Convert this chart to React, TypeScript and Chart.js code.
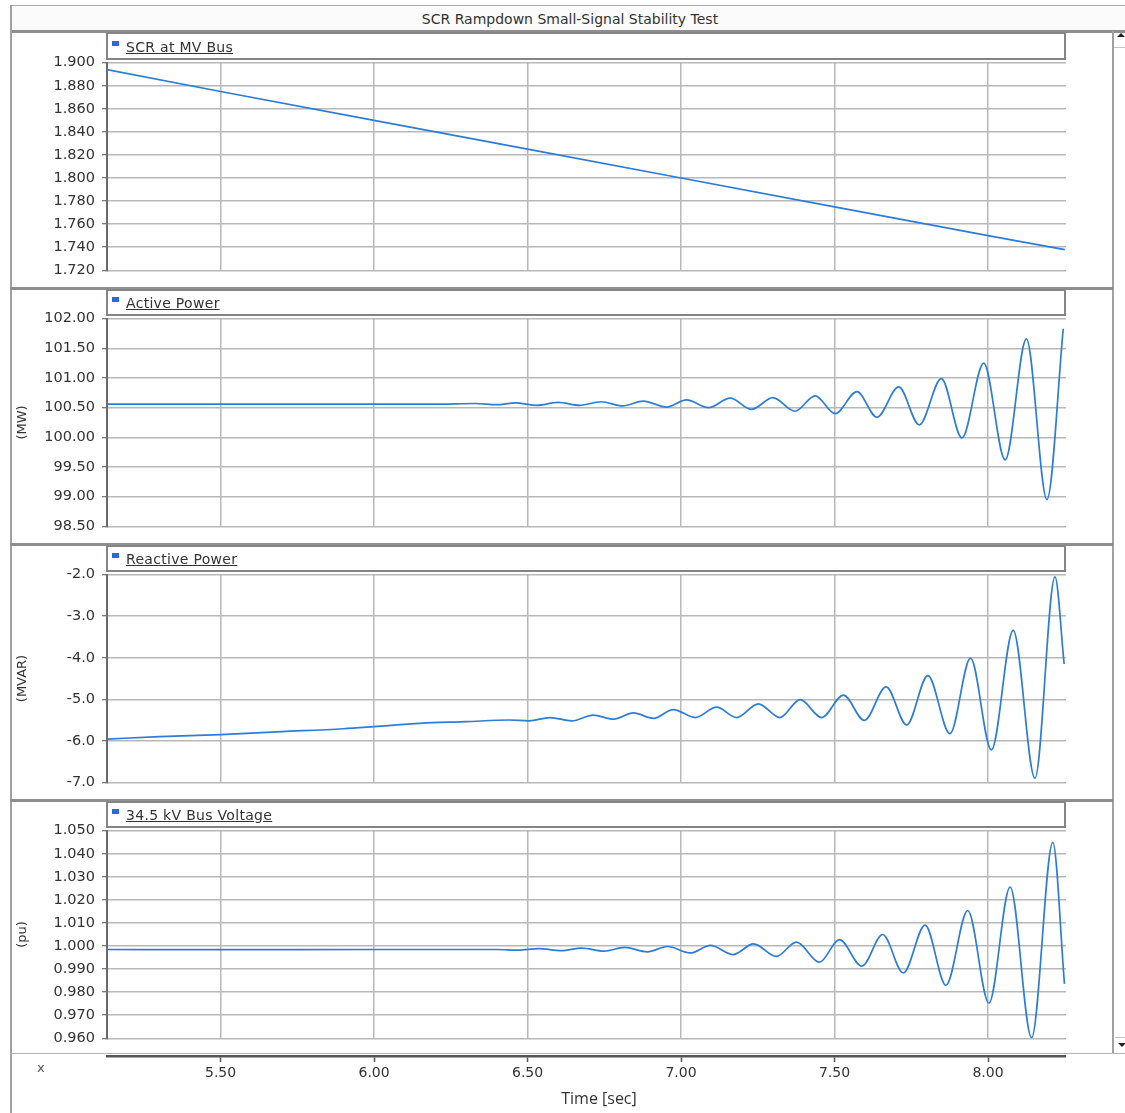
import React, { useEffect, useRef } from 'react';
import { Chart, registerables } from 'chart.js';

Chart.register(...registerables);
Chart.defaults.font.family = "'DejaVu Sans', sans-serif";

// ---------- data ----------
const CHART_TITLE = 'SCR Rampdown Small-Signal Stability Test';
const X_AXIS_TITLE = 'Time [sec]';
const X_MIN = 5.13;
const X_MAX = 8.254;
const X_TICKS = [5.5, 6.0, 6.5, 7.0, 7.5, 8.0];

const SCR_LABEL = 'SCR at MV Bus';
const SCR_TIME = [5.13, 5.5, 6.0, 6.5, 7.0, 7.5, 8.0, 8.25];
const SCR_VALUES = [1.894, 1.875, 1.85, 1.825, 1.8, 1.775, 1.75, 1.738];
const SCR_TICKS = [1.72, 1.74, 1.76, 1.78, 1.8, 1.82, 1.84, 1.86, 1.88, 1.9];

const P_LABEL = 'Active Power';
const P_UNIT = '(MW)';
const P_TIME = [5.13, 5.5, 6.0, 6.2, 6.33, 6.4, 6.46, 6.53, 6.6, 6.67, 6.74, 6.81, 6.877, 6.953, 7.018, 7.089, 7.16, 7.23, 7.299, 7.371, 7.437, 7.502, 7.573, 7.638, 7.709, 7.776, 7.848, 7.915, 7.986, 8.056, 8.125, 8.192, 8.245];
const P_VALUES = [100.56, 100.56, 100.56, 100.56, 100.57, 100.55, 100.58, 100.54, 100.59, 100.54, 100.6, 100.53, 100.61, 100.51, 100.63, 100.5, 100.66, 100.47, 100.67, 100.44, 100.7, 100.4, 100.77, 100.34, 100.85, 100.21, 100.99, 99.99, 101.25, 99.62, 101.66, 98.95, 101.83];
const P_TICKS = [98.5, 99.0, 99.5, 100.0, 100.5, 101.0, 101.5, 102.0];

const Q_LABEL = 'Reactive Power';
const Q_UNIT = '(MVAR)';
const Q_TIME = [5.13, 5.3, 5.5, 5.7, 5.9, 6.0, 6.15, 6.3, 6.44, 6.505, 6.573, 6.644, 6.714, 6.78, 6.845, 6.91, 6.975, 7.046, 7.116, 7.181, 7.252, 7.322, 7.388, 7.458, 7.529, 7.597, 7.668, 7.735, 7.804, 7.876, 7.943, 8.011, 8.082, 8.153, 8.218, 8.248];
const Q_VALUES = [-5.96, -5.9, -5.85, -5.78, -5.71, -5.66, -5.58, -5.54, -5.5, -5.52, -5.44, -5.52, -5.38, -5.48, -5.33, -5.46, -5.25, -5.44, -5.19, -5.44, -5.11, -5.44, -5.01, -5.44, -4.9, -5.51, -4.7, -5.62, -4.43, -5.83, -4.01, -6.22, -3.34, -6.9, -2.05, -4.15];
const Q_TICKS = [-7, -6, -5, -4, -3, -2];

const V_LABEL = '34.5 kV Bus Voltage';
const V_UNIT = '(pu)';
const V_TIME = [5.13, 5.5, 6.0, 6.4, 6.47, 6.536, 6.61, 6.676, 6.75, 6.816, 6.89, 6.956, 7.03, 7.096, 7.17, 7.236, 7.31, 7.376, 7.451, 7.516, 7.589, 7.657, 7.724, 7.795, 7.863, 7.934, 8.003, 8.072, 8.142, 8.211, 8.249];
const V_VALUES = [0.9985, 0.9984, 0.9985, 0.9985, 0.9982, 0.9989, 0.998, 0.9991, 0.9978, 0.9994, 0.9975, 0.9998, 0.997, 1.0003, 0.9963, 1.0009, 0.9955, 1.0017, 0.993, 1.0028, 0.9913, 1.005, 0.9883, 1.0091, 0.983, 1.0154, 0.9753, 1.0256, 0.9603, 1.0449, 0.9836];
const V_TICKS = [0.96, 0.97, 0.98, 0.99, 1.0, 1.01, 1.02, 1.03, 1.04, 1.05];

const PANELS = [
  { label: SCR_LABEL, unit: '', time: SCR_TIME, values: SCR_VALUES, ticks: SCR_TICKS, decimals: 3, smooth: false },
  { label: P_LABEL, unit: P_UNIT, time: P_TIME, values: P_VALUES, ticks: P_TICKS, decimals: 2, smooth: true },
  { label: Q_LABEL, unit: Q_UNIT, time: Q_TIME, values: Q_VALUES, ticks: Q_TICKS, decimals: 1, smooth: true },
  { label: V_LABEL, unit: V_UNIT, time: V_TIME, values: V_VALUES, ticks: V_TICKS, decimals: 3, smooth: true },
];

// ---------- layout / style ----------
const PANEL_TOPS = [31, 288, 544, 800];
const PLOT_TOPS = [59, 315, 571, 827];
const PLOT_HEIGHT = 215;
const PAD = 12;
const CANVAS_LEFT = 10;
const PLOT_LEFT = 107;
const PLOT_RIGHT = 1066;
const LINE_COLOR = '#2d7dd7';
const GRID_COLOR = '#b8b8b8';
const TEXT_COLOR = '#333333';
const FRAME_COLOR = '#8e8e8e';

function Box(props: { l: number; t: number; w: number; h: number; c: string }) {
  return (
    <div
      style={{ position: 'absolute', left: props.l, top: props.t, width: props.w, height: props.h, background: props.c }}
    />
  );
}

function PanelChart(props: { idx: number }) {
  const ref = useRef<HTMLCanvasElement>(null);
  const p = PANELS[props.idx];
  useEffect(() => {
    const ticks = p.ticks;
    const chart = new Chart(ref.current as HTMLCanvasElement, {
      type: 'line',
      data: {
        datasets: [
          {
            data: p.time.map((t, i) => ({ x: t, y: p.values[i] })),
            borderColor: LINE_COLOR,
            borderWidth: 1.7,
            pointRadius: 0,
            fill: false,
            tension: 0,
            cubicInterpolationMode: p.smooth ? 'monotone' : 'default',
          } as any,
        ],
      },
      options: {
        animation: false,
        responsive: false,
        devicePixelRatio: 1,
        events: [],
        layout: { padding: { top: PAD, bottom: PAD, left: 0, right: 0 } },
        plugins: { legend: { display: false }, tooltip: { enabled: false } },
        scales: {
          x: {
            type: 'linear',
            min: X_MIN,
            max: X_MAX,
            afterBuildTicks: (s: any) => {
              s.ticks = X_TICKS.map((v) => ({ value: v }));
            },
            afterFit: (s: any) => {
              s.height = 0;
            },
            ticks: { display: false },
            grid: { color: GRID_COLOR, lineWidth: 1.5, drawTicks: false },
            border: { display: false },
          },
          y: {
            type: 'linear',
            min: ticks[0],
            max: ticks[ticks.length - 1],
            afterBuildTicks: (s: any) => {
              s.ticks = ticks.map((v) => ({ value: v }));
            },
            afterFit: (s: any) => {
              s.width = PLOT_LEFT - CANVAS_LEFT;
            },
            ticks: {
              callback: (v: any) => Number(v).toFixed(p.decimals),
              font: { size: 14.5 },
              color: TEXT_COLOR,
              padding: 7,
            },
            grid: { color: GRID_COLOR, lineWidth: 1.5, tickLength: 5, tickColor: '#555', tickWidth: 1 },
            border: { display: true, color: '#6a6a6a', width: 2 },
            title: {
              display: !!p.unit,
              text: p.unit,
              font: { size: 13 },
              color: TEXT_COLOR,
              padding: { top: 5, bottom: 0 },
            },
          },
        },
      } as any,
    });
    return () => chart.destroy();
  }, []);
  return (
    <canvas
      ref={ref}
      width={PLOT_RIGHT - CANVAS_LEFT}
      height={PLOT_HEIGHT + 2 * PAD}
      style={{ position: 'absolute', left: CANVAS_LEFT, top: PLOT_TOPS[props.idx] - PAD }}
    />
  );
}

function XAxisChart() {
  const ref = useRef<HTMLCanvasElement>(null);
  useEffect(() => {
    const chart = new Chart(ref.current as HTMLCanvasElement, {
      type: 'line',
      data: { datasets: [] },
      options: {
        animation: false,
        responsive: false,
        devicePixelRatio: 1,
        events: [],
        layout: { padding: { top: 0, bottom: 0, left: PLOT_LEFT - CANVAS_LEFT, right: 0 } },
        plugins: { legend: { display: false }, tooltip: { enabled: false } },
        scales: {
          x: {
            type: 'linear',
            position: 'bottom',
            min: X_MIN,
            max: X_MAX,
            afterBuildTicks: (s: any) => {
              s.ticks = X_TICKS.map((v) => ({ value: v }));
            },
            afterFit: (s: any) => {
              s.height = 57;
            },
            ticks: {
              callback: (v: any) => Number(v).toFixed(2),
              font: { size: 14 },
              color: TEXT_COLOR,
              padding: 3,
              maxRotation: 0,
              autoSkip: false,
            },
            grid: { display: true, drawOnChartArea: false, drawTicks: true, tickLength: 6, tickColor: '#555', tickWidth: 1.5 },
            border: { display: true, color: '#555', width: 2.5 },
          },
          y: { display: false, min: 0, max: 1 },
        },
      } as any,
    });
    return () => chart.destroy();
  }, []);
  return (
    <canvas
      ref={ref}
      width={PLOT_RIGHT - CANVAS_LEFT}
      height={63}
      style={{ position: 'absolute', left: CANVAS_LEFT, top: 1050 }}
    />
  );
}

export default function App() {
  const textFont = "'DejaVu Sans', sans-serif";
  return (
    <div
      style={{
        position: 'absolute',
        left: 0,
        top: 0,
        width: 1125,
        height: 1113,
        background: '#ffffff',
        overflow: 'hidden',
        fontFamily: textFont,
      }}
    >
      {/* title bar */}
      <Box l={10} t={5} w={1115} h={26} c="#fbfbfb" />
      <Box l={10} t={5} w={1115} h={1} c="#a9a9a9" />
      <div
        style={{
          position: 'absolute',
          left: 15,
          top: 11,
          width: 1110,
          textAlign: 'center',
          fontSize: 14,
          lineHeight: '16px',
          color: TEXT_COLOR,
          whiteSpace: 'nowrap',
        }}
      >
        {CHART_TITLE}
      </div>
      <Box l={10} t={30} w={1115} h={3} c={FRAME_COLOR} />

      {/* left / right / bottom frame */}
      <Box l={10} t={5} w={2} h={1108} c="#a0a0a0" />
      <Box l={1112} t={31} w={2} h={1022} c="#a0a0a0" />
      <Box l={10} t={1053} w={1115} h={1} c="#b4b4b4" />

      {/* scrollbar arrows */}
      <Box l={1114} t={47} w={11} h={1} c="#c4c4c4" />
      <div
        style={{
          position: 'absolute',
          left: 1117,
          top: 33,
          width: 0,
          height: 0,
          borderLeft: '4px solid transparent',
          borderRight: '4px solid transparent',
          borderBottom: '4px solid #222',
        }}
      />
      <Box l={1115} t={1037} w={10} h={1} c="#c4c4c4" />
      <div
        style={{
          position: 'absolute',
          left: 1118,
          top: 1043,
          width: 0,
          height: 0,
          borderLeft: '4px solid transparent',
          borderRight: '4px solid transparent',
          borderTop: '4px solid #222',
        }}
      />

      {/* panel separators */}
      {PANEL_TOPS.slice(1).map((t, i) => (
        <Box key={'sep' + i} l={10} t={t - 1} w={1103} h={3} c={FRAME_COLOR} />
      ))}

      {/* charts */}
      {PANELS.map((p, i) => (
        <PanelChart key={'c' + i} idx={i} />
      ))}
      <XAxisChart />

      {/* legend boxes */}
      {PANELS.map((p, i) => (
        <React.Fragment key={'lg' + i}>
          <div
            style={{
              position: 'absolute',
              left: PLOT_LEFT - 1,
              top: PANEL_TOPS[i] + 1,
              width: PLOT_RIGHT - PLOT_LEFT + 1,
              height: PLOT_TOPS[i] - PANEL_TOPS[i],
              boxSizing: 'border-box',
              border: '2px solid #858585',
            }}
          />
          <Box l={112} t={PLOT_TOPS[i] - 18} w={7} h={5} c="#1e6fd9" />
          <div
            style={{
              position: 'absolute',
              left: 126,
              top: PLOT_TOPS[i] - 20,
              fontSize: 14,
              letterSpacing: '0.3px',
              lineHeight: '16px',
              color: TEXT_COLOR,
              textDecoration: 'underline',
              whiteSpace: 'nowrap',
            }}
          >
            {p.label}
          </div>
        </React.Fragment>
      ))}

      {/* x-axis extras */}
      <div
        style={{ position: 'absolute', left: 37, top: 1060, fontSize: 13, lineHeight: '15px', color: '#555' }}
      >
        x
      </div>
      <div
        style={{
          position: 'absolute',
          left: 539,
          top: 1087,
          width: 120,
          textAlign: 'center',
          fontFamily: "'Open Sans', sans-serif",
          fontSize: 16,
          lineHeight: '22px',
          color: '#333',
          whiteSpace: 'nowrap',
        }}
      >
        {X_AXIS_TITLE}
      </div>
    </div>
  );
}
